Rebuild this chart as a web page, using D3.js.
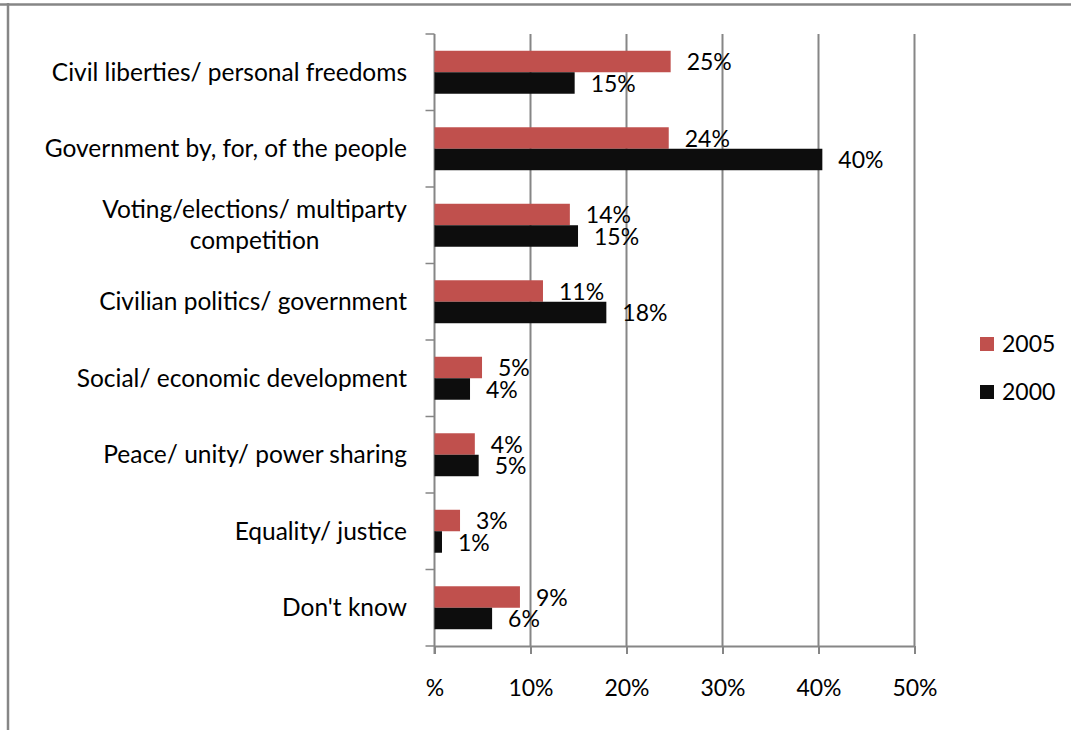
<!DOCTYPE html>
<html>
<head>
<meta charset="utf-8">
<script src="https://cdn.jsdelivr.net/npm/d3@7"></script>
<style>
  html, body { margin: 0; padding: 0; background: #ffffff; }
  svg { display: block; }
  text { font-family: Lato, "Open Sans", sans-serif; fill: #000; }
</style>
</head>
<body>
<svg id="chart" width="1071" height="730"></svg>
<script>
// Meanings of democracy, share of respondents by survey year
const categories = [
  "Civil liberties/ personal freedoms",
  "Government by, for, of the people",
  "Voting/elections/ multiparty\ncompetition",
  "Civilian politics/ government",
  "Social/ economic development",
  "Peace/ unity/ power sharing",
  "Equality/ justice",
  "Don't know"
];
const seriesNames = ["2005", "2000"];
const values2005 = [24.6, 24.4, 14.1, 11.3, 4.95, 4.2, 2.66, 8.9];
const values2000 = [14.6, 40.4, 14.95, 17.9, 3.7, 4.6, 0.78, 6.0];
const tickValues = [0, 10, 20, 30, 40, 50];
const tickLabels = ["%", "10%", "20%", "30%", "40%", "50%"];
const colors = { "2005": "#C0504D", "2000": "#0D0D0D" };

const svg = d3.select("#chart");
const gridColor = "#868686";
const fontSize = 23;
const catFontSize = 24.5;

// Outer frame (top and left edges)
svg.append("line").attr("x1", 0).attr("x2", 1071).attr("y1", 4.5).attr("y2", 4.5)
  .attr("stroke", gridColor).attr("stroke-width", 2.5);
svg.append("line").attr("x1", 8).attr("x2", 8).attr("y1", 3).attr("y2", 730)
  .attr("stroke", gridColor).attr("stroke-width", 2.5);

const x = d3.scaleLinear().domain([0, 50]).range([434.5, 914.5]);
const y = d3.scaleBand().domain(categories).range([34, 646]).padding(0);
const ySub = d3.scaleBand().domain(seriesNames).range([0, y.bandwidth()])
  .paddingInner(0).paddingOuter(0.78);

// Vertical gridlines
svg.append("g").selectAll("line")
  .data(tickValues.filter(v => v > 0))
  .join("line")
  .attr("x1", d => x(d)).attr("x2", d => x(d))
  .attr("y1", 34).attr("y2", 646)
  .attr("stroke", gridColor).attr("stroke-width", 2);

// Bottom axis with tick labels
const xAxis = d3.axisBottom(x)
  .tickValues(tickValues)
  .tickFormat((d, i) => tickLabels[i])
  .tickSizeInner(8).tickSizeOuter(0).tickPadding(26);
const gx = svg.append("g").attr("transform", "translate(0,646)").call(xAxis);
gx.select(".domain").attr("stroke", gridColor).attr("stroke-width", 2);
gx.selectAll(".tick line").attr("stroke", gridColor).attr("stroke-width", 2);
gx.selectAll(".tick text")
  .style("font-family", "Lato, sans-serif").style("font-size", fontSize + "px")
  .attr("fill", "#000").attr("dy", "0.71em");

// Left axis: line plus ticks at category boundaries
const boundaries = categories.map(c => y(c)).concat([y.range()[1]]);
svg.append("line").attr("x1", x(0)).attr("x2", x(0)).attr("y1", 34).attr("y2", 654)
  .attr("stroke", gridColor).attr("stroke-width", 2);
svg.append("g").selectAll("line")
  .data(boundaries)
  .join("line")
  .attr("x1", x(0) - 9).attr("x2", x(0))
  .attr("y1", d => d).attr("y2", d => d)
  .attr("stroke", gridColor).attr("stroke-width", 1.5);

// Category labels (multi-line labels centred as a block, right-aligned to the axis)
const labelRight = 407;
const lineGap = 31;
categories.forEach(c => {
  const lines = c.split("\n");
  const cy = y(c) + y.bandwidth() / 2;
  const g = svg.append("g");
  const texts = lines.map((ln, i) => g.append("text")
    .attr("y", cy + (i - (lines.length - 1) / 2) * lineGap)
    .attr("dy", "0.35em")
    .style("font-size", catFontSize + "px")
    .text(ln));
  if (lines.length === 1) {
    texts[0].attr("x", labelRight).attr("text-anchor", "end");
  } else {
    const w = d3.max(texts, t => t.node().getComputedTextLength());
    texts.forEach(t => t.attr("x", labelRight - w / 2).attr("text-anchor", "middle"));
  }
});

// Bars and value labels
const rows = categories.map((c, i) => ({ cat: c, "2005": values2005[i], "2000": values2000[i] }));
const groups = svg.append("g").selectAll("g")
  .data(rows).join("g")
  .attr("transform", d => `translate(0,${y(d.cat)})`);

groups.selectAll("rect")
  .data(d => seriesNames.map(s => ({ s, v: d[s] })))
  .join("rect")
  .attr("x", x(0))
  .attr("y", d => ySub(d.s))
  .attr("width", d => x(d.v) - x(0))
  .attr("height", ySub.bandwidth())
  .attr("fill", d => colors[d.s]);

groups.selectAll("text.val")
  .data(d => seriesNames.map(s => ({ s, v: d[s] })))
  .join("text")
  .attr("class", "val")
  .attr("x", d => x(d.v) + 16)
  .attr("y", d => ySub(d.s) + ySub.bandwidth() / 2 + 0.5)
  .attr("dy", "0.35em")
  .style("font-size", fontSize + "px")
  .text(d => Math.round(d.v) + "%");

// Legend
const legend = svg.append("g").selectAll("g")
  .data(seriesNames).join("g")
  .attr("transform", (d, i) => `translate(980,${344 + i * 48})`);
legend.append("rect").attr("x", 0).attr("y", -7).attr("width", 14).attr("height", 14)
  .attr("fill", d => colors[d]);
legend.append("text").attr("x", 22).attr("y", 0).attr("dy", "0.35em")
  .style("font-size", fontSize + "px").text(d => d);
</script>
</body>
</html>
